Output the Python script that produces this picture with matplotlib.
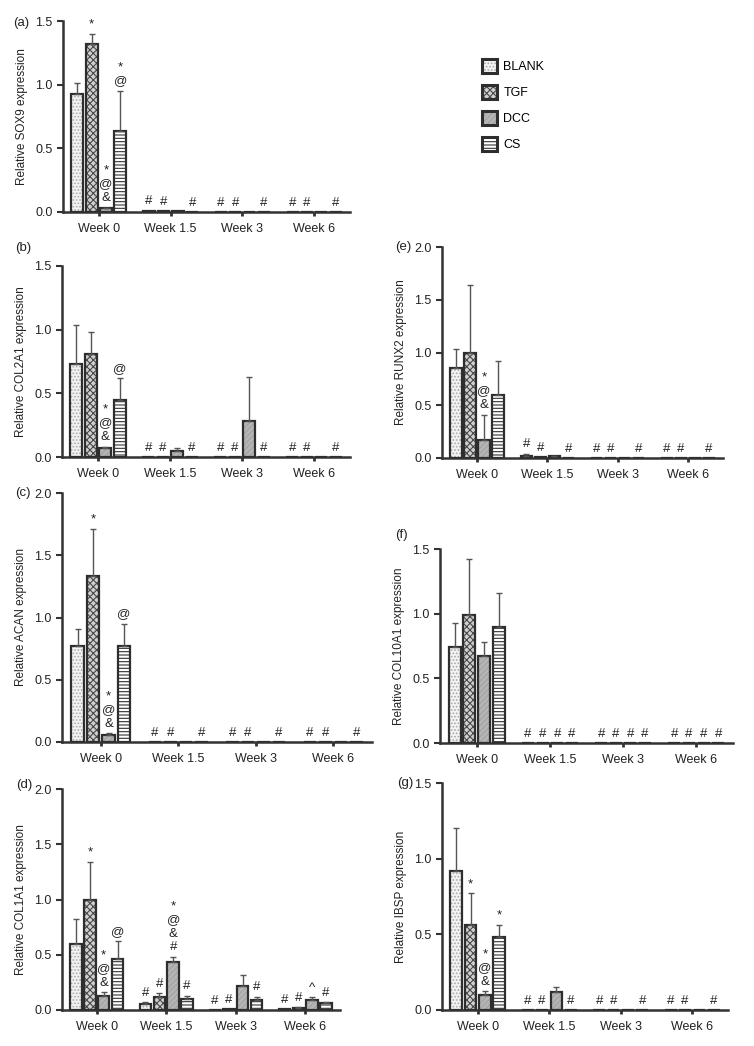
import numpy as np
import matplotlib
matplotlib.use("Agg")
import matplotlib.pyplot as plt
from matplotlib.patches import Patch
from matplotlib.ticker import FormatStrFormatter

plt.rcParams['font.family'] = ['Liberation Sans', 'DejaVu Sans']
plt.rcParams['hatch.linewidth'] = 0.8

# --- data (rows: BLANK, TGF, DCC, CS; columns: weeks) ---
weeks = ['Week 0', 'Week 1.5', 'Week 3', 'Week 6']
groups = ['BLANK', 'TGF', 'DCC', 'CS']

sox9_mean = [[0.93, 0.01, 0, 0], [1.32, 0.005, 0, 0], [0.03, 0.008, 0, 0], [0.64, 0, 0, 0]]
sox9_err = [[0.08, 0, 0, 0], [0.08, 0, 0, 0], [0.005, 0, 0, 0], [0.31, 0, 0, 0]]
sox9_marks = [(0, 1, '*'), (0, 2, '*\n@\n&'), (0, 3, '*\n@'),
              (1, 0, '#'), (1, 1, '#'), (1, 3, '#'),
              (2, 0, '#'), (2, 1, '#'), (2, 3, '#'),
              (3, 0, '#'), (3, 1, '#'), (3, 3, '#')]

col2a1_mean = [[0.73, 0, 0, 0], [0.81, 0, 0, 0], [0.07, 0.05, 0.28, 0], [0.45, 0, 0, 0]]
col2a1_err = [[0.31, 0, 0, 0], [0.17, 0, 0, 0], [0.01, 0.02, 0.35, 0], [0.17, 0, 0, 0]]
col2a1_marks = [(0, 2, '*\n@\n&'), (0, 3, '@'),
                (1, 0, '#'), (1, 1, '#'), (1, 3, '#'),
                (2, 0, '#'), (2, 1, '#'), (2, 3, '#'),
                (3, 0, '#'), (3, 1, '#'), (3, 3, '#')]

acan_mean = [[0.77, 0, 0, 0], [1.33, 0, 0, 0], [0.06, 0, 0, 0], [0.77, 0, 0, 0]]
acan_err = [[0.14, 0, 0, 0], [0.38, 0, 0, 0], [0.01, 0, 0, 0], [0.18, 0, 0, 0]]
acan_marks = [(0, 1, '*'), (0, 2, '*\n@\n&'), (0, 3, '@'),
              (1, 0, '#'), (1, 1, '#'), (1, 3, '#'),
              (2, 0, '#'), (2, 1, '#'), (2, 3, '#'),
              (3, 0, '#'), (3, 1, '#'), (3, 3, '#')]

col1a1_mean = [[0.60, 0.05, 0, 0.005], [1.00, 0.12, 0.005, 0.02],
               [0.13, 0.43, 0.22, 0.09], [0.46, 0.10, 0.09, 0.06]]
col1a1_err = [[0.22, 0.02, 0, 0], [0.34, 0.03, 0, 0.005],
              [0.03, 0.05, 0.10, 0.025], [0.16, 0.03, 0.03, 0.01]]
col1a1_marks = [(0, 1, '*'), (0, 2, '*\n@\n&'), (0, 3, '@'),
                (1, 0, '#'), (1, 1, '#'), (1, 2, '*\n@\n&\n#'), (1, 3, '#'),
                (2, 0, '#'), (2, 1, '#'), (2, 3, '#'),
                (3, 0, '#'), (3, 1, '#'), (3, 2, '^'), (3, 3, '#')]

runx2_mean = [[0.85, 0.02, 0, 0], [1.00, 0.005, 0, 0], [0.17, 0.015, 0, 0], [0.60, 0, 0, 0]]
runx2_err = [[0.18, 0.02, 0, 0], [0.64, 0, 0, 0], [0.24, 0.003, 0, 0], [0.32, 0, 0, 0]]
runx2_marks = [(0, 2, '*\n@\n&'),
               (1, 0, '#'), (1, 1, '#'), (1, 3, '#'),
               (2, 0, '#'), (2, 1, '#'), (2, 3, '#'),
               (3, 0, '#'), (3, 1, '#'), (3, 3, '#')]

col10a1_mean = [[0.74, 0, 0, 0], [0.99, 0, 0, 0], [0.67, 0, 0, 0], [0.90, 0, 0, 0]]
col10a1_err = [[0.19, 0, 0, 0], [0.43, 0, 0, 0], [0.11, 0, 0, 0], [0.26, 0, 0, 0]]
col10a1_marks = [(w, b, '#') for w in (1, 2, 3) for b in range(4)]

ibsp_mean = [[0.92, 0, 0, 0], [0.56, 0, 0, 0], [0.10, 0.12, 0, 0], [0.48, 0, 0, 0]]
ibsp_err = [[0.28, 0, 0, 0], [0.21, 0, 0, 0], [0.025, 0.03, 0, 0], [0.08, 0, 0, 0]]
ibsp_marks = [(0, 1, '*'), (0, 2, '*\n@\n&'), (0, 3, '*'),
              (1, 0, '#'), (1, 1, '#'), (1, 3, '#'),
              (2, 0, '#'), (2, 1, '#'), (2, 3, '#'),
              (3, 0, '#'), (3, 1, '#'), (3, 3, '#')]

# --- styles ---
EDGE = '#2e2e2e'
styles = {
    'BLANK': dict(face='#f3f3f3', hatch='.....', hcol='#a8a8a8'),
    'TGF': dict(face='#d0d0d0', hatch='xxxxx', hcol='#4a4a4a'),
    'DCC': dict(face='#b5b5b5', hatch='//////', hcol='#a2a2a2'),
    'CS': dict(face='white', hatch='-----', hcol='#333333'),
}
offsets = [-0.3, -0.1, 0.1, 0.3]
bar_w = 0.165

W, H = 754, 1046
fig = plt.figure(figsize=(W / 100, H / 100), dpi=100)


def px_rect(left, top, right, bottom):
    return [left / W, 1 - bottom / H, (right - left) / W, (bottom - top) / H]


def draw_panel(rect, mean, err, marks, ylabel, ymax):
    ax = fig.add_axes(rect)
    mean = np.array(mean, dtype=float)
    err = np.array(err, dtype=float)
    x = np.arange(len(weeks))
    for i, g in enumerate(groups):
        st = styles[g]
        xs = x + offsets[i]
        ax.bar(xs, mean[i], width=bar_w, color=st['face'], edgecolor=st['hcol'],
               hatch=st['hatch'], linewidth=0, zorder=2)
        ax.bar(xs, mean[i], width=bar_w, fill=False, edgecolor=EDGE,
               linewidth=1.6, zorder=3)
        m = err[i] > 0
        if m.any():
            ax.errorbar(xs[m], mean[i][m], yerr=[np.zeros(m.sum()), err[i][m]],
                        fmt='none', ecolor='#555555', elinewidth=1.0,
                        capsize=2.5, capthick=1.0, zorder=4)
    for w, b, txt in marks:
        top = mean[b][w] + err[b][w]
        ax.annotate(txt, (x[w] + offsets[b], top), xytext=(0, 2.5),
                    textcoords='offset points', ha='center', va='bottom',
                    fontsize=9.5, linespacing=1.2, color='#222222')
    ax.set_xlim(-0.5, 3.5)
    ax.set_ylim(0, ymax)
    ax.set_yticks(np.arange(0, ymax + 0.01, 0.5))
    ax.yaxis.set_major_formatter(FormatStrFormatter('%.1f'))
    ax.set_xticks(x)
    ax.set_xticklabels(weeks)
    ax.set_ylabel(ylabel, fontsize=8.5, labelpad=5, color='#222222')
    for s in ('top', 'right'):
        ax.spines[s].set_visible(False)
    for s in ('left', 'bottom'):
        ax.spines[s].set_linewidth(1.8)
        ax.spines[s].set_color('#333333')
    ax.tick_params(axis='y', direction='out', length=4, width=1.5,
                   labelsize=9, colors='#333333', labelcolor='#222222')
    ax.tick_params(axis='x', direction='out', length=3, width=2,
                   labelsize=9, colors='#333333', labelcolor='#222222', pad=5)
    return ax


draw_panel(px_rect(63, 21, 350, 212), sox9_mean, sox9_err, sox9_marks,
           'Relative SOX9 expression', 1.5)
draw_panel(px_rect(62, 266, 350, 457), col2a1_mean, col2a1_err, col2a1_marks,
           'Relative COL2A1 expression', 1.5)
draw_panel(px_rect(62, 493, 372, 742), acan_mean, acan_err, acan_marks,
           'Relative ACAN expression', 2.0)
draw_panel(px_rect(62, 789, 340, 1010), col1a1_mean, col1a1_err, col1a1_marks,
           'Relative COL1A1 expression', 2.0)
draw_panel(px_rect(442, 247, 723, 458), runx2_mean, runx2_err, runx2_marks,
           'Relative RUNX2 expression', 2.0)
draw_panel(px_rect(440, 549, 733, 743), col10a1_mean, col10a1_err, col10a1_marks,
           'Relative COL10A1 expression', 1.5)
draw_panel(px_rect(442, 783, 728, 1010), ibsp_mean, ibsp_err, ibsp_marks,
           'Relative IBSP expression', 1.5)

# panel letters
for lab, px, py in [('(a)', 13, 23), ('(b)', 15, 248), ('(c)', 15, 493),
                    ('(d)', 16, 785), ('(e)', 395, 247), ('(f)', 395, 535),
                    ('(g)', 397, 783)]:
    fig.text(px / W, 1 - py / H, lab, fontsize=9.5, ha='left', va='center',
             color='#222222')

# legend
handles = [(Patch(facecolor=styles[g]['face'], hatch=styles[g]['hatch'],
                  edgecolor=styles[g]['hcol'], linewidth=0),
            Patch(fill=False, edgecolor=EDGE, linewidth=2.2)) for g in groups]
fig.legend(handles, groups, loc='upper left',
           bbox_to_anchor=(476 / W, 1 - 53 / H), frameon=False, fontsize=9,
           handlelength=1.2, handleheight=1.3, labelspacing=0.95,
           handletextpad=0.5, borderpad=0)

fig.savefig('out.png', dpi=100)
